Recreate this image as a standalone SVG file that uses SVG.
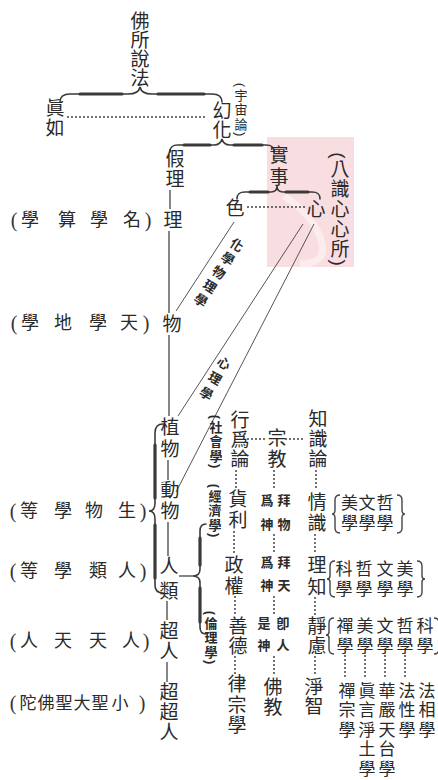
<svg xmlns="http://www.w3.org/2000/svg" width="438" height="780" viewBox="0 0 438 780">
<style>
.t{font-family:"Liberation Sans","Noto Sans CJK TC","Noto Sans CJK JP",sans-serif;font-size:18px;fill:#2a2a2a;text-anchor:middle;dominant-baseline:central}
.v{writing-mode:vertical-rl}
.m{font-size:19px}
.c{font-size:17px}
.s{font-size:13px;font-weight:700}
.w{font-size:13px}
.p{font-family:"Liberation Serif",serif;font-size:20px;fill:#333;text-anchor:middle;dominant-baseline:central}
.ln{stroke:#444;stroke-width:1.3;fill:none}
.thin{stroke:#555;stroke-width:1;fill:none}
.dot{stroke:#444;stroke-width:2;stroke-linecap:round;stroke-dasharray:0 4;fill:none}
.br{stroke:#3a3a3a;stroke-width:1.6;fill:none;stroke-linecap:round}
.bt{stroke:#3a3a3a;stroke-width:3.2;fill:none;stroke-linecap:round}
.sb{stroke:#444;stroke-width:1.4;fill:none}
</style>
<rect width="438" height="780" fill="#fff"/>
<g id="stamp">
<rect x="267" y="137" width="87" height="130" fill="#f5d3d7" opacity="0.75"/>
<path d="M284,196 C300,206 318,224 322,244 C325,258 316,264 300,264" stroke="#fbecee" stroke-width="7" fill="none"/>
</g>

<g id="connectors">
<path class="br" d="M60,102 C60,97 63,94 70,94 L128,94 C135,94 139,92 140,87 C141,92 145,94 152,94 L212,94 C219,94 222,97 222,102"/>
<path class="bt" d="M80,94 L122,94 M158,94 L204,94"/>
<path class="br" d="M170,152 C170,147 172,145 178,145 L214,145 C219,145 221,143 222,139 C223,143 225,145 230,145 L266,145 C272,145 274,147 274,152"/>
<path class="bt" d="M184,145 L210,145 M234,145 L262,145"/>
<path class="br" d="M237,199 C237,194 239,192 245,192 L271,192 C275,192 277,190 277,186 C277,190 279,192 283,192 L312,192 C318,192 320,194 320,199"/>
<path class="bt" d="M250,192 L268,192 M286,192 L308,192"/>
<path class="br" d="M163,424 C157,424 155,427 155,433 L155,503 C155,508 153,511 149,511 C153,511 155,514 155,519 L155,585 C155,590 157,593 163,593"/>
<path class="bt" d="M155,445 L155,498 M155,525 L155,578"/>
<path class="br" d="M206,524 C202,524 200,527 200,531 L200,569 C200,574 198,576 193,576 C198,576 200,578 200,583 L200,627 C200,631 202,634 206,634"/>
<path class="bt" d="M200,538 L200,565 M200,588 L200,622"/>
<line class="ln" x1="179" y1="576" x2="193" y2="576"/>
<path class="sb" d="M340,495 C336,495 335,497 335,500 L335,510 C335,513 334,514 332,514 C334,514 335,515 335,518 L335,528 C335,531 336,533 340,533"/>
<path class="sb" d="M397,495 C401,495 402,497 402,500 L402,510 C402,513 403,514 405,514 C403,514 402,515 402,518 L402,528 C402,531 401,533 397,533"/>
<path class="sb" d="M335,561 C331,561 330,563 330,566 L330,576 C330,578 329,579 327,579 C329,579 330,580 330,582 L330,592 C330,595 331,597 335,597"/>
<path class="sb" d="M417,561 C421,561 422,563 422,566 L422,576 C422,578 423,579 425,579 C423,579 422,580 422,582 L422,592 C422,595 421,597 417,597"/>
<path class="sb" d="M334,618 C330,618 329,620 329,623 L329,632 C329,634 328,635 326,635 C328,635 329,636 329,638 L329,649 C329,652 330,654 334,654"/>
<path class="sb" d="M434,618 C438,618 439,620 439,623 L439,632 C439,634 440,635 442,635 C440,635 439,636 439,638 L439,649 C439,652 438,654 434,654"/>
<line class="ln" x1="170" y1="190" x2="170" y2="209"/>
<line class="ln" x1="169" y1="231" x2="169" y2="313"/>
<line class="ln" x1="169" y1="335" x2="169" y2="416"/>
<line class="ln" x1="168" y1="460" x2="168" y2="480"/>
<line class="ln" x1="168" y1="522" x2="168" y2="556"/>
<line class="ln" x1="167" y1="601" x2="167" y2="620"/>
<line class="ln" x1="167" y1="662" x2="167" y2="682"/>
<line class="thin" x1="234" y1="222" x2="176" y2="311"/>
<line class="thin" x1="303" y1="224" x2="178" y2="416"/>
<line class="thin" x1="314" y1="224" x2="176" y2="492"/>
<line class="dot" x1="68" y1="117" x2="208" y2="117"/>
<line class="dot" x1="248" y1="207" x2="306" y2="207"/>
<line class="dot" x1="248" y1="439" x2="266" y2="439"/>
<line class="dot" x1="286" y1="439" x2="306" y2="439"/>
<line class="dot" x1="236" y1="471" x2="236" y2="489"/>
<line class="dot" x1="234" y1="532" x2="234" y2="555"/>
<line class="dot" x1="235" y1="597" x2="235" y2="616"/>
<line class="dot" x1="235" y1="657" x2="235" y2="674"/>
<line class="dot" x1="274" y1="471" x2="274" y2="491"/>
<line class="dot" x1="274" y1="535" x2="274" y2="553"/>
<line class="dot" x1="274" y1="597" x2="274" y2="615"/>
<line class="dot" x1="274" y1="657" x2="274" y2="676"/>
<line class="dot" x1="316" y1="471" x2="316" y2="491"/>
<line class="dot" x1="315" y1="535" x2="315" y2="555"/>
<line class="dot" x1="315" y1="598" x2="315" y2="616"/>
<line class="dot" x1="315" y1="657" x2="315" y2="676"/>
<line class="dot" x1="345" y1="656" x2="345" y2="680"/>
<line class="dot" x1="365" y1="656" x2="365" y2="680"/>
<line class="dot" x1="385" y1="656" x2="385" y2="680"/>
<line class="dot" x1="405" y1="656" x2="405" y2="680"/>
</g>

<g id="n-fosuo"><text class="t v m" x="138" y="49.5">佛所說法</text></g>
<g id="n-zhenru"><text class="t v m" x="53" y="118.5" letter-spacing="1">眞如</text></g>
<g id="n-huanhua"><text class="t v m" x="220" y="120.5">幻化</text>
<text class="t v w" x="240" y="110.3" letter-spacing="1.5">(宇宙論)</text></g>
<g id="n-jiali"><text class="t v m" x="173" y="169.5" letter-spacing="1">假理</text></g>
<g id="n-shishi"><text class="t v m" x="277" y="167.5" letter-spacing="3">實事</text></g>
<g id="n-se"><text class="t m" x="235" y="208">色</text></g>
<g id="n-xin"><text class="t m" x="316" y="209">心</text>
<text class="t v m" x="338" y="209.5" letter-spacing="1">(八識心心所)</text></g>

<g id="n-li"><text class="t m" x="173" y="220">理</text>
<text class="p" x="14" y="220">(</text><text class="t"><tspan x="30" y="220">學</tspan><tspan x="67" y="220">算</tspan><tspan x="99" y="220">學</tspan><tspan x="132" y="220">名</tspan></text><text class="p" x="148" y="220">)</text></g>
<g id="n-wu"><text class="t m" x="172" y="324">物</text>
<text class="p" x="14" y="323">(</text><text class="t"><tspan x="30" y="323">學</tspan><tspan x="63" y="323">地</tspan><tspan x="98" y="323">學</tspan><tspan x="129" y="323">天</tspan></text><text class="p" x="146" y="323">)</text></g>
<g id="n-zhiwu"><text class="t v m" x="168" y="439.5" letter-spacing="3">植物</text></g>
<g id="n-dongwu"><text class="t v m" x="168" y="501.5" letter-spacing="2">動物</text>
<text class="p" x="13" y="511">(</text><text class="t"><tspan x="29" y="511">等</tspan><tspan x="63" y="511">學</tspan><tspan x="94" y="511">物</tspan><tspan x="127" y="511">生</tspan></text><text class="p" x="143" y="511">)</text></g>
<g id="n-renlei"><text class="t v m" x="167" y="581.5" letter-spacing="6">人類</text>
<text class="p" x="13" y="571">(</text><text class="t"><tspan x="29" y="571">等</tspan><tspan x="63" y="571">學</tspan><tspan x="98" y="571">類</tspan><tspan x="127" y="571">人</tspan></text><text class="p" x="143" y="571">)</text></g>
<g id="n-chaoren"><text class="t v m" x="167" y="641.5" letter-spacing="1">超人</text>
<text class="p" x="13" y="641">(</text><text class="t"><tspan x="29" y="641">人</tspan><tspan x="63" y="641">天</tspan><tspan x="98" y="641">天</tspan><tspan x="131" y="641">人</tspan></text><text class="p" x="146" y="641">)</text></g>
<g id="n-chaochaoren"><text class="t v m" x="167" y="712.5" letter-spacing="1">超超人</text>
<text class="p" x="13" y="703">(</text><text class="t c"><tspan x="28" y="703">陀</tspan><tspan x="46" y="703">佛</tspan><tspan x="64" y="703">聖</tspan><tspan x="82" y="703">大</tspan><tspan x="100" y="703">聖</tspan><tspan x="120" y="703">小</tspan></text><text class="p" x="142" y="703">)</text></g>

<g id="lbl-physchem"><text class="t v s" x="218" y="273.7" font-size="14" letter-spacing="3.5" transform="rotate(33 218 272)">化學物理學</text></g>
<g id="lbl-psych"><text class="t v s" x="214" y="380" letter-spacing="4.5" transform="rotate(30 214 378)">心理學</text></g>

<g id="n-xingwei"><text class="t v m" x="238" y="440" letter-spacing="0.5">行爲論</text>
<text class="t v s" x="215" y="442.3" letter-spacing="1.5">(社會學)</text></g>
<g id="n-zongjiao"><text class="t v m" x="275" y="449.5" letter-spacing="2">宗教</text></g>
<g id="n-zhishi"><text class="t v m" x="316" y="439.5" letter-spacing="1">知識論</text></g>

<g id="n-huoli"><text class="t v m" x="236" y="510.5" letter-spacing="2">貨利</text>
<text class="t v s" x="214" y="511.3" letter-spacing="1.5">(經濟學)</text></g>
<g id="n-zhengquan"><text class="t v m" x="232" y="576.5" letter-spacing="2">政權</text></g>
<g id="n-shande"><text class="t v m" x="236" y="636.5" letter-spacing="1">善德</text>
<text class="t v s" x="210" y="638.3" letter-spacing="1.5">(倫理學)</text></g>
<g id="n-lvzong"><text class="t v m" x="235" y="705.3" letter-spacing="1.5">律宗學</text></g>

<g id="n-baiwu"><text class="t v s" x="283" y="517.5" letter-spacing="11">拜物</text><text class="t v s" x="266" y="517.5" letter-spacing="11">爲神</text></g>
<g id="n-baitian"><text class="t v s" x="283" y="578.5" letter-spacing="10">拜天</text><text class="t v s" x="266" y="578.5" letter-spacing="10">爲神</text></g>
<g id="n-jiren"><text class="t v s" x="282" y="638.5" letter-spacing="9">卽人</text><text class="t v s" x="263" y="638.5" letter-spacing="9">是神</text></g>
<g id="n-fojiao"><text class="t v m" x="271" y="697.5" letter-spacing="1">佛教</text></g>

<g id="n-qingshi"><text class="t v m" x="315" y="513.5" letter-spacing="2">情識</text></g>
<g id="n-lizhi"><text class="t v m" x="315" y="577.5" letter-spacing="3">理知</text></g>
<g id="n-jinglv"><text class="t v m" x="315" y="636.5" letter-spacing="1">靜慮</text></g>
<g id="n-jingzhi"><text class="t v m" x="312" y="696.5">淨智</text></g>

<g id="set1"><text class="t c"><tspan x="349.5" y="503">美</tspan><tspan x="367" y="503">文</tspan><tspan x="385" y="503">哲</tspan></text><text class="t c"><tspan x="349.5" y="523">學</tspan><tspan x="367" y="523">學</tspan><tspan x="385" y="523">學</tspan></text></g>
<g id="set2"><text class="t c"><tspan x="344" y="569">科</tspan><tspan x="364" y="569">哲</tspan><tspan x="385" y="569">文</tspan><tspan x="405" y="569">美</tspan></text><text class="t c"><tspan x="344" y="589">學</tspan><tspan x="364" y="589">學</tspan><tspan x="385" y="589">學</tspan><tspan x="405" y="589">學</tspan></text></g>
<g id="set3"><text class="t c"><tspan x="345" y="625.5">禪</tspan><tspan x="365" y="625.5">美</tspan><tspan x="385" y="625.5">文</tspan><tspan x="405" y="625.5">哲</tspan><tspan x="425" y="625.5">科</tspan></text><text class="t c"><tspan x="345" y="645.5">學</tspan><tspan x="365" y="645.5">學</tspan><tspan x="385" y="645.5">學</tspan><tspan x="405" y="645.5">學</tspan><tspan x="425" y="645.5">學</tspan></text></g>
<g id="n-chanzong"><text class="t v c" x="345" y="710.8" letter-spacing="2.5">禪宗學</text></g>
<g id="n-zhenyan"><text class="t v c" x="365" y="730.3" letter-spacing="2.5">眞言淨土學</text></g>
<g id="n-huayan"><text class="t v c" x="385" y="730.3" letter-spacing="2.5">華嚴天台學</text></g>
<g id="n-faxing"><text class="t v c" x="405" y="710.8" letter-spacing="2.5">法性學</text></g>
<g id="n-faxiang"><text class="t v c" x="425" y="710.8" letter-spacing="2.5">法相學</text></g>
</svg>
